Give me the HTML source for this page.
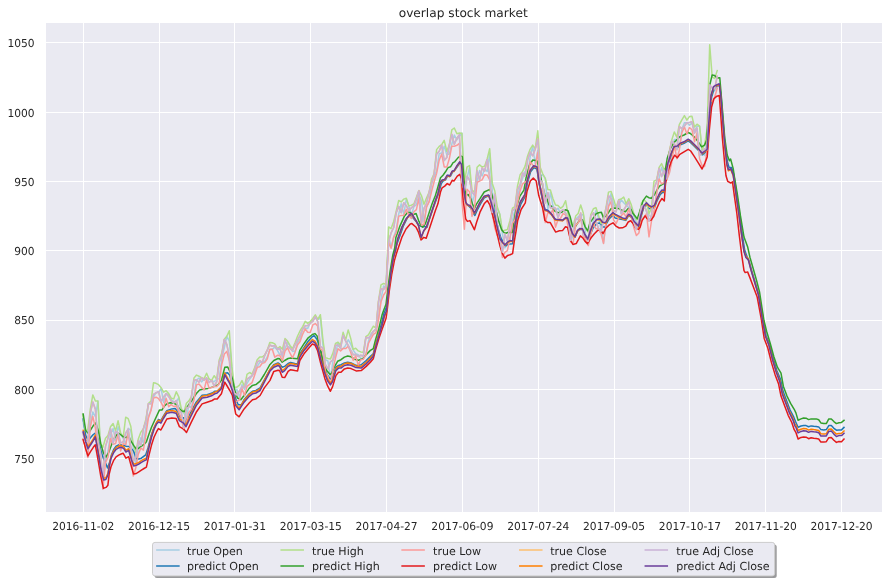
<!DOCTYPE html><html><head><meta charset="utf-8"><title>overlap stock market</title>
<style>html,body{margin:0;padding:0;background:#fff}svg{display:block;will-change:transform}text{text-rendering:geometricPrecision;font-family:"DejaVu Sans","Liberation Sans",sans-serif;fill:#262626}</style></head><body>
<svg width="894" height="583" viewBox="0 0 894 583">
<rect x="0" y="0" width="894" height="583" fill="#ffffff"/>
<rect x="46" y="23" width="836" height="489" fill="#eaeaf2"/>
<path d="M83.5 23 V512 M159.5 23 V512 M234.5 23 V512 M310.5 23 V512 M386.5 23 V512 M462.5 23 V512 M538.5 23 V512 M614.5 23 V512 M689.5 23 V512 M765.5 23 V512 M841.5 23 V512 M46 458.5 H882 M46 389.5 H882 M46 320.5 H882 M46 250.5 H882 M46 181.5 H882 M46 112.5 H882 M46 42.5 H882" stroke="#ffffff" stroke-width="1" fill="none" shape-rendering="crispEdges"/>
<g fill="none" stroke-width="1.5" stroke-linejoin="round" stroke-linecap="square" clip-path="none">
<path d="M82.7 419.1 L85.2 434.3 L87.8 457.2 L90.3 424.2 L92.8 411.9 L95.4 416.7 L97.9 401.1 L100.4 449.1 L102.9 450.4 L105.5 462.4 L108.0 451.0 L110.5 434.7 L113.1 428.5 L115.6 440.7 L118.1 426.8 L120.6 433.6 L123.2 438.4 L125.7 444.3 L128.2 428.3 L130.8 430.3 L133.3 447.8 L135.8 465.7 L138.3 447.5 L140.9 437.7 L143.4 442.9 L145.9 427.0 L148.4 416.6 L151.0 409.6 L153.5 397.3 L156.0 392.5 L158.6 392.6 L161.1 388.3 L163.6 402.4 L166.1 393.4 L168.7 394.6 L171.2 399.5 L173.7 401.5 L176.3 401.8 L178.8 397.6 L181.3 412.0 L183.8 412.8 L186.4 418.2 L188.9 405.0 L191.4 408.2 L194.0 395.4 L196.5 380.0 L199.0 378.0 L201.5 381.9 L204.1 379.0 L206.6 378.5 L209.1 379.1 L211.6 380.8 L214.2 381.8 L216.7 379.3 L219.2 378.8 L221.8 358.0 L224.3 347.8 L226.8 336.5 L229.3 340.8 L231.9 368.6 L234.4 393.2 L236.9 389.3 L239.5 397.5 L242.0 384.7 L244.5 389.3 L247.0 383.3 L249.6 379.2 L252.1 375.7 L254.6 372.7 L257.2 366.7 L259.7 362.5 L262.2 362.0 L264.7 361.3 L267.3 357.0 L269.8 349.2 L272.3 349.2 L274.8 347.1 L277.4 350.4 L279.9 354.8 L282.4 353.4 L285.0 348.9 L287.5 342.0 L290.0 346.5 L292.5 351.5 L295.1 350.9 L297.6 342.4 L300.1 339.0 L302.7 328.9 L305.2 327.9 L307.7 328.4 L310.2 322.9 L312.8 320.9 L315.3 317.3 L317.8 319.6 L320.4 317.6 L322.9 344.6 L325.4 359.8 L327.9 361.0 L330.5 379.2 L333.0 360.6 L335.5 354.2 L338.0 342.4 L340.6 348.7 L343.1 348.4 L345.6 345.4 L348.2 339.7 L350.7 344.0 L353.2 350.1 L355.7 353.7 L358.3 354.6 L360.8 358.5 L363.3 358.2 L365.9 354.2 L368.4 341.4 L370.9 333.7 L373.4 331.4 L376.0 329.4 L378.5 317.9 L381.0 298.8 L383.6 286.0 L386.1 286.9 L388.6 235.5 L391.1 247.6 L393.7 237.0 L396.2 229.7 L398.7 214.2 L401.2 203.8 L403.8 214.1 L406.3 199.1 L408.8 206.0 L411.4 215.2 L413.9 206.6 L416.4 204.6 L418.9 194.9 L421.5 200.9 L424.0 221.2 L426.5 206.7 L429.1 201.8 L431.6 183.9 L434.1 176.9 L436.6 170.8 L439.2 153.7 L441.7 152.9 L444.2 146.3 L446.8 154.7 L449.3 154.0 L451.8 144.2 L454.3 135.0 L456.9 139.9 L459.4 136.2 L461.9 133.2 L464.4 195.5 L467.0 178.4 L469.5 167.3 L472.0 203.2 L474.6 194.9 L477.1 181.1 L479.6 170.6 L482.1 176.0 L484.7 168.9 L487.2 171.5 L489.7 153.4 L492.3 191.4 L494.8 210.1 L497.3 208.8 L499.8 214.2 L502.4 233.4 L504.9 247.9 L507.4 244.6 L510.0 238.0 L512.5 220.1 L515.0 209.4 L517.5 196.7 L520.1 186.1 L522.6 178.2 L525.1 171.3 L527.6 176.8 L530.2 156.3 L532.7 146.4 L535.2 164.0 L537.8 150.2 L540.3 175.7 L542.8 174.5 L545.3 178.5 L547.9 209.5 L550.4 192.2 L552.9 205.4 L555.5 210.6 L558.0 208.2 L560.5 213.2 L563.0 210.0 L565.6 212.7 L568.1 221.7 L570.6 226.0 L573.2 239.2 L575.7 219.1 L578.2 216.7 L580.7 215.2 L583.3 214.6 L585.8 236.0 L588.3 236.4 L590.8 232.7 L593.4 219.9 L595.9 210.6 L598.4 217.7 L601.0 228.1 L603.5 243.2 L606.0 222.5 L608.5 206.3 L611.1 193.3 L613.6 204.4 L616.1 208.5 L618.7 206.3 L621.2 199.7 L623.7 202.8 L626.2 205.1 L628.8 207.8 L631.3 207.0 L633.8 216.1 L636.4 222.6 L638.9 226.1 L641.4 218.4 L643.9 204.6 L646.5 211.8 L649.0 215.0 L651.5 217.4 L654.0 211.8 L656.6 193.0 L659.1 178.2 L661.6 167.2 L664.2 175.5 L666.7 171.3 L669.2 173.4 L671.7 157.9 L674.3 139.4 L676.8 139.4 L679.3 148.1 L681.9 129.1 L684.4 122.8 L686.9 122.7 L689.4 125.2 L692.0 123.1 L694.5 131.1 L697.0 126.3 L699.6 126.2 L702.1 153.3 L704.6 155.5 L707.1 139.4 L709.7 99.0 L712.2 92.3 L714.7 90.6 L717.2 87.9" stroke="#a6cee3"/>
<path d="M83.2 418.9 L85.7 435.4 L88.3 440.6 L90.8 437.3 L93.3 434.5 L95.3 433.0 L98.4 439.5 L100.8 450.6 L103.4 458.4 L106.0 464.0 L107.5 467.9 L109.8 461.8 L111.4 455.1 L113.7 449.5 L116.1 446.2 L118.7 444.8 L121.5 445.1 L123.7 445.6 L126.2 446.2 L128.7 446.4 L131.3 448.4 L133.8 451.7 L136.3 458.4 L138.8 459.0 L141.4 458.2 L144.0 456.2 L145.7 454.9 L148.2 447.3 L151.0 436.1 L153.8 428.3 L156.6 422.8 L158.4 419.5 L160.9 420.7 L163.4 416.2 L166.8 410.6 L171.8 408.9 L175.2 408.6 L177.7 411.5 L180.3 417.4 L183.6 417.7 L185.6 422.4 L191.2 411.5 L196.2 402.2 L202.1 395.2 L207.1 394.7 L212.2 393.0 L214.7 391.3 L217.2 391.3 L221.4 387.1 L224.8 373.3 L227.6 372.8 L229.8 375.3 L232.4 385.4 L235.7 398.9 L238.2 404.7 L241.6 404.7 L244.1 399.7 L249.2 393.8 L252.5 391.3 L255.9 390.5 L260.1 387.9 L264.3 380.0 L270.0 369.5 L273.8 364.7 L278.0 363.0 L279.6 363.9 L282.2 367.2 L284.7 366.4 L288.1 363.5 L290.6 362.5 L294.8 363.5 L297.6 363.9 L299.8 353.8 L304.0 347.6 L308.2 341.2 L312.4 336.6 L314.1 335.6 L317.1 339.5 L320.0 348.7 L323.3 363.9 L326.7 373.9 L330.1 379.0 L332.3 378.2 L335.9 367.2 L338.5 365.5 L341.0 364.7 L344.4 363.0 L347.7 362.2 L351.1 363.0 L356.1 365.5 L361.2 364.7 L366.2 360.5 L370.4 356.3 L373.3 353.8 L375.4 345.4 L378.8 333.6 L382.0 321.8 L383.9 313.5 L386.3 307.6 L388.2 290.8 L390.7 271.5 L393.2 256.4 L395.2 248.8 L399.3 237.4 L403.5 225.6 L407.7 217.2 L410.2 215.5 L411.9 216.4 L416.1 221.4 L418.6 224.8 L421.1 226.5 L424.5 226.5 L427.0 227.3 L429.5 218.9 L432.9 208.8 L436.3 199.6 L438.8 192.9 L441.3 183.6 L443.0 181.1 L445.5 179.9 L448.0 175.2 L450.5 176.1 L453.1 171.0 L454.7 170.2 L458.1 165.5 L460.6 162.6 L462.3 166.8 L464.0 187.0 L466.0 203.8 L468.2 205.5 L470.7 208.0 L473.2 213.0 L474.9 215.5 L477.1 210.5 L480.5 203.8 L484.2 197.9 L489.1 195.6 L491.0 199.9 L493.5 208.5 L495.9 218.4 L498.4 229.5 L500.9 238.1 L502.7 241.2 L504.9 244.3 L505.8 245.8 L507.7 244.3 L510.1 244.1 L512.6 243.7 L514.1 233.2 L515.9 223.3 L517.4 215.4 L520.7 204.5 L525.3 196.1 L527.3 183.5 L530.6 171.7 L534.0 167.5 L537.0 169.2 L539.0 183.5 L541.2 193.6 L543.3 202.8 L544.9 209.4 L547.8 210.2 L550.7 213.0 L555.2 219.5 L559.4 220.1 L562.7 220.5 L565.5 218.1 L567.6 218.5 L569.7 225.9 L572.5 234.1 L575.0 237.0 L577.5 231.2 L580.0 229.2 L582.4 229.6 L584.9 235.4 L587.8 239.9 L590.7 233.7 L593.1 227.9 L596.8 223.4 L600.1 223.0 L602.6 226.7 L605.1 227.3 L606.0 224.5 L609.3 218.7 L612.6 215.4 L615.1 217.9 L618.4 218.7 L622.5 219.5 L625.8 220.4 L628.7 215.4 L631.5 217.5 L634.0 222.0 L638.5 227.0 L640.6 217.5 L643.5 208.0 L646.4 204.7 L648.8 208.4 L651.7 208.8 L654.6 207.2 L657.1 200.6 L660.0 194.8 L662.4 192.4 L664.3 192.4 L665.8 175.4 L668.0 164.5 L671.4 154.4 L673.9 148.5 L677.3 147.6 L679.8 145.1 L684.0 143.4 L688.2 140.9 L690.7 142.6 L694.1 146.0 L698.3 150.2 L702.1 154.9 L705.0 152.7 L707.2 151.0 L708.7 126.3 L711.6 97.4 L714.0 89.0 L716.9 85.9 L719.8 85.4 L721.2 97.4 L722.9 119.1 L725.3 147.9 L727.5 162.3 L729.1 167.4 L731.5 167.4 L733.9 174.6 L736.3 191.4 L739.5 213.0 L742.3 234.6 L744.7 250.3 L746.9 256.3 L749.1 261.1 L752.4 273.1 L756.0 285.1 L759.1 295.9 L763.3 319.2 L766.1 336.0 L769.7 344.4 L773.3 358.8 L776.9 370.8 L780.5 379.3 L782.9 390.8 L786.5 400.4 L790.1 410.0 L793.8 417.2 L795.4 421.3 L798.1 427.2 L801.0 426.0 L803.6 425.6 L806.1 425.6 L808.6 426.7 L811.1 425.9 L813.7 426.3 L816.2 426.5 L818.7 426.9 L820.9 429.6 L823.8 429.9 L826.3 429.6 L828.8 425.6 L831.3 425.4 L833.9 428.3 L836.4 430.2 L838.9 429.9 L841.5 429.9 L844.0 427.4" stroke="#1f78b4"/>
<path d="M82.7 414.3 L85.2 430.5 L87.8 429.9 L90.3 409.4 L92.8 394.9 L95.4 401.0 L97.9 401.1 L100.4 443.2 L102.9 447.3 L105.5 438.2 L108.0 435.5 L110.5 426.7 L113.1 423.5 L115.6 430.9 L118.1 420.8 L120.6 432.8 L123.2 437.4 L125.7 417.2 L128.2 418.7 L130.8 426.3 L133.3 444.5 L135.8 452.6 L138.3 438.9 L140.9 432.1 L143.4 428.6 L145.9 419.1 L148.4 403.5 L151.0 401.0 L153.5 382.8 L156.0 383.3 L158.6 384.7 L161.1 387.7 L163.6 392.1 L166.1 390.7 L168.7 393.5 L171.2 398.1 L173.7 398.9 L176.3 391.8 L178.8 396.9 L181.3 408.4 L183.8 412.7 L186.4 403.2 L188.9 400.9 L191.4 396.5 L194.0 377.9 L196.5 375.1 L199.0 376.2 L201.5 377.6 L204.1 378.6 L206.6 373.3 L209.1 379.0 L211.6 380.3 L214.2 375.7 L216.7 379.3 L219.2 359.9 L221.8 353.0 L224.3 339.3 L226.8 336.2 L229.3 330.7 L231.9 366.9 L234.4 387.1 L236.9 387.2 L239.5 385.1 L242.0 380.6 L244.5 386.6 L247.0 374.3 L249.6 372.5 L252.1 374.1 L254.6 367.7 L257.2 359.8 L259.7 357.0 L262.2 357.0 L264.7 355.1 L267.3 350.0 L269.8 342.5 L272.3 342.8 L274.8 343.9 L277.4 348.7 L279.9 346.6 L282.4 349.3 L285.0 338.6 L287.5 341.0 L290.0 345.4 L292.5 348.8 L295.1 342.6 L297.6 336.0 L300.1 330.7 L302.7 326.6 L305.2 321.4 L307.7 323.4 L310.2 321.5 L312.8 318.4 L315.3 314.9 L317.8 319.3 L320.4 314.7 L322.9 339.6 L325.4 357.6 L327.9 358.5 L330.5 358.9 L333.0 352.9 L335.5 343.5 L338.0 342.2 L340.6 345.0 L343.1 332.3 L345.6 340.1 L348.2 330.0 L350.7 338.4 L353.2 349.4 L355.7 348.2 L358.3 350.9 L360.8 351.9 L363.3 352.3 L365.9 336.6 L368.4 334.9 L370.9 330.4 L373.4 326.2 L376.0 328.1 L378.5 300.9 L381.0 284.9 L383.6 283.5 L386.1 284.4 L388.6 226.9 L391.1 228.6 L393.7 221.5 L396.2 211.3 L398.7 200.5 L401.2 201.9 L403.8 199.1 L406.3 198.3 L408.8 205.9 L411.4 205.2 L413.9 203.9 L416.4 197.3 L418.9 190.5 L421.5 195.8 L424.0 204.3 L426.5 198.0 L429.1 192.3 L431.6 179.0 L434.1 173.9 L436.6 149.6 L439.2 146.4 L441.7 144.7 L444.2 140.4 L446.8 151.2 L449.3 145.1 L451.8 129.9 L454.3 128.0 L456.9 133.7 L459.4 133.1 L461.9 133.2 L464.4 181.9 L467.0 167.2 L469.5 165.5 L472.0 190.2 L474.6 192.0 L477.1 167.2 L479.6 164.9 L482.1 167.0 L484.7 166.1 L487.2 158.8 L489.7 148.7 L492.3 183.4 L494.8 191.0 L497.3 207.0 L499.8 214.2 L502.4 231.0 L504.9 230.2 L507.4 229.6 L510.0 220.4 L512.5 208.2 L515.0 206.7 L517.5 186.1 L520.1 174.8 L522.6 171.4 L525.1 166.1 L527.6 156.0 L530.2 149.1 L532.7 145.1 L535.2 148.8 L537.8 130.8 L540.3 167.6 L542.8 174.1 L545.3 178.5 L547.9 189.6 L550.4 189.9 L552.9 198.4 L555.5 205.1 L558.0 205.6 L560.5 208.3 L563.0 206.4 L565.6 200.7 L568.1 214.3 L570.6 223.6 L573.2 225.7 L575.7 216.1 L578.2 213.5 L580.7 205.0 L583.3 213.1 L585.8 229.1 L588.3 232.3 L590.8 214.5 L593.4 208.8 L595.9 207.6 L598.4 214.9 L601.0 223.6 L603.5 218.0 L606.0 207.6 L608.5 192.1 L611.1 191.4 L613.6 199.0 L616.1 207.5 L618.7 199.8 L621.2 199.0 L623.7 197.1 L626.2 203.9 L628.8 198.7 L631.3 204.9 L633.8 213.6 L636.4 219.7 L638.9 219.2 L641.4 203.3 L643.9 199.7 L646.5 202.2 L649.0 213.7 L651.5 207.6 L654.0 181.1 L656.6 180.0 L659.1 167.4 L661.6 163.6 L664.2 169.9 L666.7 166.6 L669.2 152.0 L671.7 140.2 L674.3 131.9 L676.8 137.3 L679.3 124.6 L681.9 119.9 L684.4 115.6 L686.9 120.1 L689.4 116.6 L692.0 116.3 L694.5 127.1 L697.0 124.2 L699.6 126.2 L702.1 150.2 L704.6 144.8 L707.1 128.9 L709.7 44.7 L712.2 77.1 L714.7 78.5 L717.2 70.6" stroke="#b2df8a"/>
<path d="M83.2 414.0 L85.7 430.6 L88.3 433.4 L90.8 429.5 L93.3 425.6 L95.8 422.9 L98.4 431.1 L100.8 443.9 L103.4 452.9 L106.0 457.0 L108.5 452.9 L111.0 446.2 L113.5 439.5 L116.1 435.6 L118.7 433.4 L121.1 435.0 L123.7 437.3 L126.2 437.5 L128.7 436.1 L131.3 441.7 L133.8 445.6 L136.3 449.0 L138.8 448.2 L141.4 446.2 L144.0 444.5 L146.4 441.7 L149.0 433.9 L151.5 427.2 L154.0 421.7 L159.4 410.1 L161.9 410.1 L164.5 405.9 L166.8 403.9 L170.2 402.7 L173.5 403.1 L176.9 404.7 L179.4 408.9 L181.9 411.0 L184.5 411.5 L186.1 408.9 L188.7 404.7 L192.9 398.9 L196.2 393.8 L199.6 390.1 L203.8 389.1 L208.0 388.4 L212.2 387.1 L214.7 386.3 L218.1 384.6 L221.4 380.4 L224.8 367.3 L227.6 366.9 L229.8 371.1 L232.4 378.7 L234.9 390.5 L237.4 398.0 L240.8 399.7 L244.1 395.5 L249.2 388.4 L252.5 385.4 L255.9 384.6 L260.1 381.2 L264.3 374.5 L270.0 364.4 L273.8 360.5 L278.0 358.5 L279.6 358.8 L282.2 362.2 L284.7 360.5 L288.1 358.5 L290.6 358.0 L294.8 358.5 L297.6 358.8 L299.8 350.4 L304.0 343.7 L308.2 337.8 L312.4 334.5 L314.9 333.6 L317.1 336.1 L320.0 347.1 L323.3 362.2 L326.7 370.6 L330.1 374.5 L331.7 373.1 L334.3 367.2 L337.6 361.3 L341.0 359.7 L344.4 357.1 L347.7 356.0 L351.1 356.8 L354.4 359.2 L358.6 360.2 L362.8 358.8 L366.2 354.6 L370.4 350.4 L373.3 348.7 L375.4 340.3 L378.8 328.6 L382.0 315.1 L383.4 311.0 L386.0 304.3 L387.6 290.8 L390.2 270.7 L392.7 255.5 L394.7 248.0 L395.9 237.4 L400.1 225.6 L404.3 216.4 L407.7 212.2 L410.2 212.5 L412.7 214.7 L416.1 213.5 L418.6 220.6 L421.1 225.6 L422.8 227.3 L425.3 223.9 L428.7 213.9 L432.1 203.8 L435.4 195.4 L437.9 187.0 L440.5 177.7 L443.0 175.2 L445.5 171.8 L448.0 167.6 L450.5 166.8 L453.1 162.6 L454.7 161.8 L458.1 157.6 L460.6 155.9 L462.3 156.7 L464.0 180.3 L466.0 195.4 L468.2 194.5 L470.7 198.7 L472.4 203.8 L474.4 208.8 L476.6 203.8 L480.0 198.7 L484.2 192.0 L489.8 189.4 L491.6 193.7 L494.1 202.3 L496.5 212.2 L499.0 222.1 L501.5 229.5 L504.0 232.6 L505.8 233.2 L508.3 232.2 L510.7 232.6 L512.6 232.6 L513.5 224.6 L515.1 214.7 L516.5 207.0 L519.9 196.1 L523.9 190.2 L526.1 177.6 L529.5 165.0 L532.8 160.0 L537.0 160.8 L539.5 170.0 L541.2 179.3 L543.7 190.2 L544.9 195.0 L547.4 199.9 L549.1 204.9 L551.5 206.1 L554.0 210.7 L557.7 212.7 L562.2 211.9 L565.5 209.8 L568.0 210.7 L570.1 216.4 L572.5 226.3 L574.6 227.9 L577.1 223.8 L579.5 220.5 L582.4 219.7 L584.9 226.3 L587.8 230.8 L590.2 222.2 L592.7 218.9 L596.0 213.9 L598.5 212.7 L601.4 212.3 L603.4 217.7 L606.0 216.2 L608.5 212.5 L610.9 208.8 L614.2 208.0 L618.4 208.4 L622.5 210.5 L625.4 211.7 L628.2 208.4 L630.7 209.2 L633.2 213.8 L637.3 218.7 L639.8 211.3 L643.1 200.6 L646.4 196.1 L648.8 197.7 L651.3 198.3 L654.6 194.4 L657.1 189.9 L659.5 186.2 L662.8 184.1 L664.3 183.5 L665.2 170.3 L667.2 158.6 L670.5 148.5 L673.9 142.6 L677.3 139.2 L679.8 136.7 L684.0 135.0 L688.2 132.5 L690.7 133.7 L694.1 136.7 L698.3 141.8 L701.6 146.8 L704.5 145.1 L706.7 140.1 L708.0 119.1 L709.9 84.7 L712.1 75.1 L714.7 75.6 L717.3 78.0 L719.8 77.7 L722.4 109.4 L724.8 138.3 L727.2 155.1 L729.4 160.8 L730.6 159.0 L733.2 168.6 L734.4 177.0 L737.3 193.8 L740.4 215.4 L744.0 237.0 L747.6 246.7 L750.0 257.5 L753.1 268.3 L756.5 280.3 L759.6 292.3 L763.7 319.2 L766.6 331.2 L770.2 343.2 L773.8 356.4 L777.4 367.2 L781.0 373.2 L783.4 386.5 L787.0 396.1 L790.6 403.3 L794.2 409.3 L795.9 412.9 L798.1 420.2 L801.0 418.9 L803.6 418.0 L806.1 418.2 L808.6 419.6 L811.1 418.9 L813.7 418.9 L816.2 418.9 L818.7 419.8 L820.9 422.9 L823.8 423.6 L826.3 423.6 L828.8 418.9 L831.3 418.9 L833.9 421.6 L836.4 423.6 L838.9 422.7 L841.5 422.4 L844.0 420.4" stroke="#33a02c"/>
<path d="M82.7 439.5 L85.2 445.6 L87.8 457.4 L90.3 426.9 L92.8 416.3 L95.4 428.1 L97.9 455.1 L100.4 457.6 L102.9 489.3 L105.5 462.4 L108.0 457.5 L110.5 438.4 L113.1 444.3 L115.6 443.5 L118.1 434.6 L120.6 450.9 L123.2 443.6 L125.7 444.6 L128.2 432.9 L130.8 451.5 L133.3 476.1 L135.8 467.7 L138.3 454.1 L140.9 448.0 L143.4 450.1 L145.9 434.3 L148.4 417.9 L151.0 410.6 L153.5 398.1 L156.0 397.2 L158.6 398.7 L161.1 402.3 L163.6 407.9 L166.1 398.2 L168.7 406.7 L171.2 404.7 L173.7 406.5 L176.3 406.0 L178.8 412.2 L181.3 418.1 L183.8 429.9 L186.4 422.4 L188.9 412.2 L191.4 409.6 L194.0 399.7 L196.5 384.9 L199.0 384.0 L201.5 387.0 L204.1 390.0 L206.6 379.6 L209.1 388.4 L211.6 387.5 L214.2 386.4 L216.7 386.5 L219.2 383.7 L221.8 364.2 L224.3 354.1 L226.8 351.4 L229.3 360.5 L231.9 389.1 L234.4 402.0 L236.9 401.1 L239.5 400.0 L242.0 388.4 L244.5 395.5 L247.0 386.4 L249.6 384.4 L252.1 382.6 L254.6 375.3 L257.2 367.4 L259.7 366.7 L262.2 363.3 L264.7 362.6 L267.3 358.9 L269.8 349.6 L272.3 349.2 L274.8 357.2 L277.4 355.3 L279.9 355.6 L282.4 360.9 L285.0 351.1 L287.5 347.8 L290.0 353.2 L292.5 357.8 L295.1 352.1 L297.6 344.8 L300.1 341.5 L302.7 334.1 L305.2 328.9 L307.7 332.3 L310.2 332.4 L312.8 324.9 L315.3 323.6 L317.8 326.3 L320.4 348.7 L322.9 351.2 L325.4 371.9 L327.9 376.6 L330.5 384.2 L333.0 369.4 L335.5 357.9 L338.0 348.7 L340.6 350.9 L343.1 348.4 L345.6 348.6 L348.2 346.3 L350.7 352.2 L353.2 360.4 L355.7 355.9 L358.3 365.3 L360.8 359.7 L363.3 359.2 L365.9 355.0 L368.4 343.5 L370.9 338.6 L373.4 334.4 L376.0 332.6 L378.5 319.8 L381.0 301.8 L383.6 295.0 L386.1 291.3 L388.6 242.3 L391.1 248.3 L393.7 237.2 L396.2 232.9 L398.7 216.2 L401.2 215.4 L403.8 215.3 L406.3 209.4 L408.8 215.4 L411.4 218.4 L413.9 211.7 L416.4 209.6 L418.9 198.2 L421.5 225.2 L424.0 224.3 L426.5 207.3 L429.1 201.8 L431.6 191.3 L434.1 181.7 L436.6 173.4 L439.2 160.2 L441.7 154.0 L444.2 166.9 L446.8 167.1 L449.3 158.8 L451.8 146.2 L454.3 146.2 L456.9 145.3 L459.4 143.3 L461.9 200.9 L464.4 229.2 L467.0 189.2 L469.5 191.7 L472.0 216.4 L474.6 206.5 L477.1 182.3 L479.6 181.0 L482.1 179.9 L484.7 174.7 L487.2 175.2 L489.7 179.9 L492.3 213.1 L494.8 228.1 L497.3 235.6 L499.8 238.8 L502.4 257.5 L504.9 252.4 L507.4 250.7 L510.0 238.0 L512.5 223.1 L515.0 219.8 L517.5 202.5 L520.1 190.7 L522.6 183.8 L525.1 182.1 L527.6 180.2 L530.2 161.6 L532.7 165.0 L535.2 166.9 L537.8 152.2 L540.3 187.4 L542.8 191.7 L545.3 222.6 L547.9 212.2 L550.4 214.2 L552.9 209.7 L555.5 227.2 L558.0 219.5 L560.5 218.4 L563.0 213.6 L565.6 214.8 L568.1 226.4 L570.6 241.8 L573.2 242.6 L575.7 225.1 L578.2 222.8 L580.7 217.8 L583.3 235.1 L585.8 240.4 L588.3 245.6 L590.8 234.4 L593.4 223.5 L595.9 228.8 L598.4 228.8 L601.0 233.8 L603.5 243.4 L606.0 223.1 L608.5 206.3 L611.1 201.6 L613.6 219.9 L616.1 223.6 L618.7 217.6 L621.2 215.8 L623.7 213.0 L626.2 217.2 L628.8 208.9 L631.3 217.0 L633.8 227.6 L636.4 235.6 L638.9 232.9 L641.4 219.8 L643.9 217.3 L646.5 213.6 L649.0 236.8 L651.5 221.0 L654.0 211.8 L656.6 194.1 L659.1 178.9 L661.6 184.0 L664.2 182.2 L666.7 180.0 L669.2 173.8 L671.7 162.5 L674.3 144.8 L676.8 158.7 L679.3 150.2 L681.9 132.5 L684.4 127.0 L686.9 133.9 L689.4 127.5 L692.0 129.8 L694.5 141.7 L697.0 133.1 L699.6 158.7 L702.1 165.8 L704.6 166.4 L707.1 150.2 L709.7 100.3 L712.2 101.3 L714.7 97.3 L717.2 88.2" stroke="#fb9a99"/>
<path d="M83.2 439.4 L85.7 449.0 L88.0 455.9 L90.8 451.2 L93.3 447.3 L95.3 444.8 L98.4 461.8 L100.8 476.3 L103.4 488.3 L106.0 487.4 L107.9 485.2 L109.2 474.0 L111.0 466.8 L113.5 460.7 L116.1 456.8 L118.7 455.1 L121.1 454.0 L123.1 453.2 L125.9 458.1 L128.7 456.8 L131.3 466.2 L133.5 474.0 L136.3 473.5 L138.8 471.8 L141.4 470.1 L144.0 468.5 L146.4 467.1 L149.0 455.1 L151.5 445.1 L154.0 437.3 L156.6 431.7 L158.4 428.6 L160.9 430.0 L163.4 425.3 L166.8 419.0 L171.8 417.9 L176.1 418.5 L179.4 426.6 L183.6 429.1 L186.5 432.5 L191.2 422.4 L196.2 412.3 L202.1 403.9 L207.1 402.2 L212.2 400.5 L214.7 398.9 L217.2 398.9 L221.4 393.8 L224.8 382.1 L229.8 390.5 L232.4 395.5 L235.7 414.0 L239.1 416.8 L244.1 408.9 L249.2 403.1 L252.5 399.7 L255.9 398.9 L260.1 395.5 L264.3 387.9 L270.0 380.4 L273.8 371.4 L278.0 370.3 L279.6 370.6 L282.2 377.3 L284.7 377.6 L288.1 371.4 L290.6 369.7 L294.8 370.6 L297.6 370.9 L299.8 360.5 L304.0 353.8 L308.2 348.7 L312.4 344.0 L314.9 345.0 L317.5 350.4 L320.8 363.9 L325.0 379.0 L327.5 385.7 L330.4 391.3 L332.6 386.6 L335.9 375.6 L338.5 372.3 L341.0 372.3 L344.4 368.9 L347.7 368.1 L351.1 368.6 L356.1 370.9 L361.2 370.6 L366.2 366.4 L370.4 362.2 L373.3 358.8 L375.4 350.4 L378.8 338.7 L382.0 329.4 L386.0 318.6 L387.1 311.0 L389.3 290.8 L391.8 274.0 L394.4 260.6 L396.6 253.0 L401.8 237.4 L406.0 229.0 L410.2 223.9 L411.9 223.6 L416.1 227.3 L418.6 232.4 L421.1 239.9 L423.7 237.4 L426.2 238.2 L428.7 230.7 L432.1 220.6 L435.4 210.5 L437.9 203.8 L440.5 192.0 L442.1 187.8 L444.7 186.1 L447.2 183.6 L449.7 185.0 L452.2 180.3 L453.9 181.1 L457.3 176.1 L459.8 174.4 L461.5 178.6 L463.2 200.4 L465.7 218.9 L467.4 221.4 L469.9 220.6 L472.4 225.6 L474.4 229.8 L476.6 222.3 L480.0 212.2 L484.2 203.8 L487.3 200.5 L489.8 204.8 L492.2 213.5 L494.7 223.3 L497.8 236.9 L500.2 246.8 L502.7 254.2 L504.9 258.1 L507.7 255.4 L510.1 254.8 L512.6 253.6 L514.2 241.9 L516.3 229.5 L517.7 220.5 L521.1 209.5 L525.3 202.8 L526.9 191.9 L530.3 181.0 L533.3 178.1 L536.2 181.0 L538.7 195.3 L540.4 201.1 L542.5 207.4 L544.9 220.5 L547.8 222.6 L550.3 222.6 L552.8 227.1 L555.7 232.1 L559.4 230.8 L562.7 230.4 L565.5 226.7 L567.6 227.5 L569.2 234.5 L570.9 241.1 L572.9 244.4 L576.2 243.6 L580.4 235.8 L582.8 237.8 L584.9 241.1 L587.4 243.6 L591.1 237.8 L594.4 233.7 L597.7 230.4 L600.5 229.6 L603.0 233.7 L606.0 228.0 L609.3 224.9 L613.0 222.8 L615.9 226.1 L619.2 228.0 L622.5 227.8 L625.8 226.1 L628.2 222.0 L630.7 220.8 L633.2 223.7 L635.7 228.0 L638.5 229.4 L640.2 227.0 L642.2 220.4 L645.1 215.8 L646.8 218.3 L650.9 220.4 L653.8 216.2 L656.2 209.7 L659.5 202.2 L662.0 198.5 L664.3 201.0 L665.5 183.8 L668.0 171.2 L671.4 161.1 L674.7 155.2 L677.3 157.7 L679.8 154.4 L684.0 151.8 L688.2 149.3 L690.7 151.0 L694.1 156.1 L698.3 162.8 L702.1 169.0 L705.0 162.8 L707.2 156.9 L709.2 131.1 L711.6 107.0 L714.0 98.6 L716.9 96.2 L719.3 95.5 L720.7 114.3 L722.4 138.3 L724.8 164.7 L726.0 175.8 L727.7 181.3 L730.8 183.0 L732.5 181.8 L734.4 196.2 L736.8 213.0 L739.2 234.6 L741.6 253.9 L744.0 270.7 L745.2 272.6 L747.6 271.9 L750.0 277.9 L753.6 287.5 L757.2 297.1 L761.3 319.2 L764.2 338.4 L767.8 348.0 L771.4 362.4 L775.0 374.4 L778.6 384.1 L781.0 396.1 L784.6 405.7 L788.2 415.3 L791.8 422.5 L794.2 429.7 L796.0 432.7 L798.1 439.0 L801.0 437.4 L803.6 436.9 L806.1 437.2 L808.6 438.7 L811.1 437.7 L813.7 438.3 L816.2 438.6 L818.7 439.0 L820.9 442.1 L823.8 441.9 L826.3 441.7 L828.8 437.7 L831.3 437.4 L833.9 440.3 L836.4 442.4 L838.9 441.5 L841.5 441.7 L844.0 439.0" stroke="#e31a1c"/>
<path d="M82.7 432.2 L85.2 441.4 L87.8 441.5 L90.3 413.1 L92.8 402.0 L95.4 409.2 L97.9 440.8 L100.4 452.6 L102.9 477.5 L105.5 446.4 L108.0 438.1 L110.5 428.7 L113.1 443.6 L115.6 431.6 L118.1 432.8 L120.6 442.9 L123.2 442.0 L125.7 432.9 L128.2 429.3 L130.8 447.0 L133.3 461.0 L135.8 457.5 L138.3 440.8 L140.9 445.5 L143.4 428.8 L145.9 421.5 L148.4 403.7 L151.0 403.7 L153.5 394.3 L156.0 392.9 L158.6 391.8 L161.1 401.6 L163.6 396.9 L166.1 393.8 L168.7 396.4 L171.2 401.0 L173.7 402.9 L176.3 400.6 L178.8 409.6 L181.3 412.7 L183.8 427.9 L186.4 408.1 L188.9 407.0 L191.4 397.2 L194.0 380.3 L196.5 379.7 L199.0 382.2 L201.5 377.9 L204.1 380.1 L206.6 377.9 L209.1 382.5 L211.6 380.5 L214.2 385.9 L216.7 381.9 L219.2 362.1 L221.8 355.8 L224.3 339.4 L226.8 344.3 L229.3 356.6 L231.9 385.7 L234.4 393.3 L236.9 394.8 L239.5 390.9 L242.0 386.8 L244.5 387.0 L247.0 379.2 L249.6 377.3 L252.1 375.6 L254.6 369.9 L257.2 362.2 L259.7 360.5 L262.2 362.6 L264.7 355.4 L267.3 350.0 L269.8 345.0 L272.3 346.2 L274.8 345.5 L277.4 349.2 L279.9 348.3 L282.4 356.7 L285.0 340.0 L287.5 346.4 L290.0 348.6 L292.5 350.4 L295.1 344.6 L297.6 339.9 L300.1 335.3 L302.7 328.9 L305.2 325.8 L307.7 325.6 L310.2 323.5 L312.8 321.3 L315.3 316.6 L317.8 321.8 L320.4 346.7 L322.9 347.9 L325.4 364.5 L327.9 368.9 L330.5 361.8 L333.0 359.9 L335.5 345.3 L338.0 345.2 L340.6 347.9 L343.1 335.4 L345.6 341.0 L348.2 345.3 L350.7 350.2 L353.2 354.7 L355.7 354.6 L358.3 356.5 L360.8 355.2 L363.3 356.2 L365.9 337.4 L368.4 337.8 L370.9 335.9 L373.4 331.2 L376.0 329.0 L378.5 301.9 L381.0 288.7 L383.6 289.5 L386.1 286.0 L388.6 242.0 L391.1 232.9 L393.7 227.5 L396.2 212.8 L398.7 206.4 L401.2 212.7 L403.8 202.8 L406.3 205.7 L408.8 210.4 L411.4 207.9 L413.9 205.6 L416.4 198.9 L418.9 190.7 L421.5 223.1 L424.0 208.4 L426.5 203.2 L429.1 192.3 L431.6 182.6 L434.1 174.1 L436.6 153.9 L439.2 151.2 L441.7 145.1 L444.2 160.4 L446.8 157.5 L449.3 145.5 L451.8 134.3 L454.3 144.2 L456.9 138.1 L459.4 134.7 L461.9 181.2 L464.4 190.8 L467.0 176.3 L469.5 179.9 L472.0 191.7 L474.6 195.2 L477.1 170.8 L479.6 180.1 L482.1 167.9 L484.7 171.2 L487.2 159.4 L489.7 177.9 L492.3 212.4 L494.8 194.2 L497.3 225.6 L499.8 238.2 L502.4 252.1 L504.9 234.1 L507.4 241.0 L510.0 224.5 L512.5 210.4 L515.0 208.6 L517.5 189.6 L520.1 184.9 L522.6 172.7 L525.1 176.3 L527.6 159.7 L530.2 152.1 L532.7 155.8 L535.2 149.2 L537.8 139.0 L540.3 180.0 L542.8 184.0 L545.3 203.0 L547.9 192.7 L550.4 208.0 L552.9 207.6 L555.5 208.2 L558.0 217.5 L560.5 211.5 L563.0 209.6 L565.6 213.2 L568.1 218.6 L570.6 240.3 L573.2 230.3 L575.7 218.9 L578.2 219.5 L580.7 212.9 L583.3 235.1 L585.8 235.5 L588.3 241.1 L590.8 216.1 L593.4 212.9 L595.9 220.8 L598.4 228.3 L601.0 231.2 L603.5 220.8 L606.0 209.3 L608.5 195.8 L611.1 198.5 L613.6 210.9 L616.1 211.8 L618.7 200.5 L621.2 213.6 L623.7 210.0 L626.2 205.8 L628.8 201.7 L631.3 215.5 L633.8 222.2 L636.4 229.5 L638.9 220.1 L641.4 206.5 L643.9 205.3 L646.5 210.8 L649.0 221.2 L651.5 215.8 L654.0 188.6 L656.6 181.7 L659.1 168.4 L661.6 176.5 L664.2 170.2 L666.7 178.7 L669.2 153.3 L671.7 141.0 L674.3 143.6 L676.8 149.7 L679.3 126.6 L681.9 128.6 L684.4 126.0 L686.9 122.8 L689.4 122.5 L692.0 121.7 L694.5 133.3 L697.0 128.1 L699.6 155.4 L702.1 152.5 L704.6 148.7 L707.1 149.7 L709.7 85.0 L712.2 88.0 L714.7 88.7 L717.2 76.4" stroke="#fdbf6f"/>
<path d="M83.2 430.3 L85.7 440.0 L88.0 447.0 L90.8 442.8 L93.3 438.9 L95.3 435.1 L98.4 452.3 L100.8 466.8 L103.6 478.2 L105.9 477.7 L107.9 473.4 L109.2 465.6 L111.0 456.7 L113.5 451.2 L116.1 447.6 L118.7 446.1 L121.1 445.6 L123.7 446.7 L125.9 450.3 L128.7 448.7 L131.3 457.8 L133.7 464.2 L136.3 463.6 L138.8 462.3 L141.4 460.6 L144.0 459.2 L146.4 458.1 L149.0 445.6 L151.5 435.6 L154.0 427.8 L156.6 422.2 L158.4 420.2 L160.9 421.5 L163.4 416.8 L166.8 411.5 L171.8 410.6 L176.1 411.5 L179.4 419.0 L183.6 421.5 L186.0 424.9 L191.2 414.0 L196.2 403.9 L202.1 396.3 L207.1 395.5 L212.2 393.8 L214.7 392.1 L217.2 391.3 L221.4 387.1 L224.8 373.1 L229.8 382.0 L232.4 388.8 L235.7 403.9 L239.1 408.1 L244.1 400.5 L249.2 394.6 L252.5 392.1 L255.9 391.3 L260.1 388.8 L264.3 380.4 L270.0 369.4 L273.8 365.5 L278.0 363.8 L279.6 364.7 L282.2 370.6 L284.7 368.9 L288.1 364.7 L290.6 363.5 L294.8 364.2 L297.6 364.7 L299.8 355.4 L304.0 348.7 L308.2 343.7 L312.4 339.5 L314.9 341.2 L317.5 345.4 L320.8 358.0 L325.0 372.2 L327.5 379.0 L330.4 383.2 L332.6 379.8 L335.9 368.9 L338.5 366.4 L341.0 366.4 L344.4 363.8 L347.7 363.0 L351.1 363.5 L356.1 365.9 L361.2 366.4 L366.2 362.2 L370.4 358.0 L373.3 354.6 L375.4 346.2 L378.8 334.4 L382.0 325.8 L384.3 316.6 L386.5 311.6 L388.5 291.4 L391.0 272.9 L393.5 257.8 L395.7 250.2 L397.6 239.7 L401.8 227.9 L406.0 219.5 L410.2 214.5 L411.6 214.1 L416.1 221.2 L418.6 226.2 L421.1 238.0 L423.7 231.3 L426.2 227.9 L428.7 221.2 L432.1 211.1 L435.4 201.0 L437.9 194.3 L440.5 182.5 L442.1 180.5 L444.7 180.0 L447.2 175.8 L449.7 176.7 L452.2 171.6 L453.9 171.6 L457.3 165.7 L459.8 162.4 L461.5 164.9 L463.2 185.9 L465.7 202.7 L467.4 205.2 L469.9 206.1 L472.4 209.4 L474.4 213.6 L476.6 209.4 L480.0 202.7 L484.2 196.8 L488.5 195.5 L490.4 200.5 L492.8 209.1 L495.3 219.0 L497.8 230.1 L500.2 240.0 L502.7 243.1 L504.9 245.5 L507.7 242.5 L510.1 241.2 L512.6 241.5 L513.8 231.3 L515.7 221.5 L516.8 214.3 L520.2 202.6 L524.9 195.0 L526.9 182.4 L530.3 170.6 L533.7 166.4 L537.0 167.3 L539.0 182.4 L541.2 192.5 L543.3 203.9 L544.9 210.5 L547.8 211.3 L550.7 213.8 L555.2 220.0 L559.4 220.4 L562.7 220.8 L565.5 218.3 L567.6 218.7 L569.7 226.1 L572.5 234.4 L575.0 237.3 L577.5 231.1 L580.0 229.0 L582.4 229.4 L584.9 235.2 L587.8 239.7 L590.2 231.9 L593.1 224.5 L596.8 220.0 L600.1 219.5 L602.6 222.8 L605.1 223.3 L606.0 223.0 L609.3 217.2 L613.0 213.5 L615.1 215.2 L618.4 216.8 L622.5 218.9 L625.8 219.7 L628.7 215.2 L631.5 217.2 L634.0 222.2 L638.5 227.1 L640.6 217.2 L643.5 207.3 L646.4 203.6 L648.8 206.1 L651.7 207.8 L654.6 206.1 L657.1 199.5 L660.0 193.3 L662.0 190.9 L664.3 191.7 L665.8 174.3 L668.0 163.4 L671.4 153.3 L673.9 147.4 L677.3 146.6 L679.8 144.0 L684.0 142.4 L688.2 139.8 L690.7 141.5 L694.1 144.9 L698.3 149.1 L702.1 153.8 L705.0 151.6 L707.2 149.9 L708.7 124.8 L711.1 96.0 L713.5 87.6 L716.4 85.9 L719.3 84.7 L720.7 96.0 L722.4 117.6 L724.8 146.4 L727.0 165.4 L728.4 170.8 L730.8 169.6 L733.2 175.6 L735.6 192.4 L738.7 214.0 L741.6 235.1 L744.0 251.0 L745.9 256.3 L748.3 259.1 L751.2 270.2 L754.8 282.2 L758.4 294.2 L762.3 318.7 L765.4 335.5 L769.0 345.1 L772.6 359.3 L776.2 371.1 L779.8 380.5 L782.2 392.2 L785.8 401.8 L789.4 411.4 L793.0 418.4 L795.0 424.4 L796.0 425.1 L798.1 430.5 L801.0 429.2 L803.6 428.5 L806.1 428.7 L808.6 430.1 L811.1 429.2 L813.7 429.6 L816.2 429.9 L818.7 430.5 L820.9 433.8 L823.8 434.1 L826.3 433.8 L828.8 429.2 L831.3 429.0 L833.9 431.8 L836.4 434.1 L838.9 433.5 L841.5 433.2 L844.0 431.0" stroke="#ff7f00"/>
<path d="M82.7 432.2 L85.2 441.4 L87.8 441.5 L90.3 413.1 L92.8 402.0 L95.4 409.2 L97.9 440.8 L100.4 452.6 L102.9 477.5 L105.5 446.4 L108.0 438.1 L110.5 428.7 L113.1 443.6 L115.6 431.6 L118.1 432.8 L120.6 442.9 L123.2 442.0 L125.7 432.9 L128.2 429.3 L130.8 447.0 L133.3 461.0 L135.8 457.5 L138.3 440.8 L140.9 445.5 L143.4 428.8 L145.9 421.5 L148.4 403.7 L151.0 403.7 L153.5 394.3 L156.0 392.9 L158.6 391.8 L161.1 401.6 L163.6 396.9 L166.1 393.8 L168.7 396.4 L171.2 401.0 L173.7 402.9 L176.3 400.6 L178.8 409.6 L181.3 412.7 L183.8 427.9 L186.4 408.1 L188.9 407.0 L191.4 397.2 L194.0 380.3 L196.5 379.7 L199.0 382.2 L201.5 377.9 L204.1 380.1 L206.6 377.9 L209.1 382.5 L211.6 380.5 L214.2 385.9 L216.7 381.9 L219.2 362.1 L221.8 355.8 L224.3 339.4 L226.8 344.3 L229.3 356.6 L231.9 385.7 L234.4 393.3 L236.9 394.8 L239.5 390.9 L242.0 386.8 L244.5 387.0 L247.0 379.2 L249.6 377.3 L252.1 375.6 L254.6 369.9 L257.2 362.2 L259.7 360.5 L262.2 362.6 L264.7 355.4 L267.3 350.0 L269.8 345.0 L272.3 346.2 L274.8 345.5 L277.4 349.2 L279.9 348.3 L282.4 356.7 L285.0 340.0 L287.5 346.4 L290.0 348.6 L292.5 350.4 L295.1 344.6 L297.6 339.9 L300.1 335.3 L302.7 328.9 L305.2 325.8 L307.7 325.6 L310.2 323.5 L312.8 321.3 L315.3 316.6 L317.8 321.8 L320.4 346.7 L322.9 347.9 L325.4 364.5 L327.9 368.9 L330.5 361.8 L333.0 359.9 L335.5 345.3 L338.0 345.2 L340.6 347.9 L343.1 335.4 L345.6 341.0 L348.2 345.3 L350.7 350.2 L353.2 354.7 L355.7 354.6 L358.3 356.5 L360.8 355.2 L363.3 356.2 L365.9 337.4 L368.4 337.8 L370.9 335.9 L373.4 331.2 L376.0 329.0 L378.5 301.9 L381.0 288.7 L383.6 289.5 L386.1 286.0 L388.6 242.0 L391.1 232.9 L393.7 227.5 L396.2 212.8 L398.7 206.4 L401.2 212.7 L403.8 202.8 L406.3 205.7 L408.8 210.4 L411.4 207.9 L413.9 205.6 L416.4 198.9 L418.9 190.7 L421.5 223.1 L424.0 208.4 L426.5 203.2 L429.1 192.3 L431.6 182.6 L434.1 174.1 L436.6 153.9 L439.2 151.2 L441.7 145.1 L444.2 160.4 L446.8 157.5 L449.3 145.5 L451.8 134.3 L454.3 144.2 L456.9 138.1 L459.4 134.7 L461.9 181.2 L464.4 190.8 L467.0 176.3 L469.5 179.9 L472.0 191.7 L474.6 195.2 L477.1 170.8 L479.6 180.1 L482.1 167.9 L484.7 171.2 L487.2 159.4 L489.7 177.9 L492.3 212.4 L494.8 194.2 L497.3 225.6 L499.8 238.2 L502.4 252.1 L504.9 234.1 L507.4 241.0 L510.0 224.5 L512.5 210.4 L515.0 208.6 L517.5 189.6 L520.1 184.9 L522.6 172.7 L525.1 176.3 L527.6 159.7 L530.2 152.1 L532.7 155.8 L535.2 149.2 L537.8 139.0 L540.3 180.0 L542.8 184.0 L545.3 203.0 L547.9 192.7 L550.4 208.0 L552.9 207.6 L555.5 208.2 L558.0 217.5 L560.5 211.5 L563.0 209.6 L565.6 213.2 L568.1 218.6 L570.6 240.3 L573.2 230.3 L575.7 218.9 L578.2 219.5 L580.7 212.9 L583.3 235.1 L585.8 235.5 L588.3 241.1 L590.8 216.1 L593.4 212.9 L595.9 220.8 L598.4 228.3 L601.0 231.2 L603.5 220.8 L606.0 209.3 L608.5 195.8 L611.1 198.5 L613.6 210.9 L616.1 211.8 L618.7 200.5 L621.2 213.6 L623.7 210.0 L626.2 205.8 L628.8 201.7 L631.3 215.5 L633.8 222.2 L636.4 229.5 L638.9 220.1 L641.4 206.5 L643.9 205.3 L646.5 210.8 L649.0 221.2 L651.5 215.8 L654.0 188.6 L656.6 181.7 L659.1 168.4 L661.6 176.5 L664.2 170.2 L666.7 178.7 L669.2 153.3 L671.7 141.0 L674.3 143.6 L676.8 149.7 L679.3 126.6 L681.9 128.6 L684.4 126.0 L686.9 122.8 L689.4 122.5 L692.0 121.7 L694.5 133.3 L697.0 128.1 L699.6 155.4 L702.1 152.5 L704.6 148.7 L707.1 149.7 L709.7 85.0 L712.2 88.0 L714.7 88.7 L717.2 76.4" stroke="#cab2d6"/>
<path d="M83.2 432.0 L85.7 441.7 L88.0 448.7 L90.8 444.5 L93.3 440.6 L95.3 436.8 L98.4 454.0 L100.8 468.5 L103.6 479.9 L105.9 479.4 L107.9 475.1 L109.2 467.3 L111.0 458.4 L113.5 452.9 L116.1 449.3 L118.7 447.8 L121.1 447.3 L123.7 448.4 L125.9 452.0 L128.7 450.4 L131.3 459.5 L133.7 465.9 L136.3 465.3 L138.8 464.0 L141.4 462.3 L144.0 460.9 L146.4 459.8 L149.0 447.3 L151.5 437.3 L154.0 429.5 L156.6 423.9 L158.4 421.9 L160.9 423.2 L163.4 418.5 L166.8 413.2 L171.8 412.3 L176.1 413.2 L179.4 420.7 L183.6 423.2 L186.0 426.6 L191.2 415.7 L196.2 405.6 L202.1 398.0 L207.1 397.2 L212.2 395.5 L214.7 393.8 L217.2 393.0 L221.4 388.8 L224.8 374.8 L229.8 383.7 L232.4 390.5 L235.7 405.6 L239.1 409.8 L244.1 402.2 L249.2 396.3 L252.5 393.8 L255.9 393.0 L260.1 390.5 L264.3 382.1 L270.0 371.1 L273.8 367.2 L278.0 365.5 L279.6 366.4 L282.2 372.3 L284.7 370.6 L288.1 366.4 L290.6 365.2 L294.8 365.9 L297.6 366.4 L299.8 357.1 L304.0 350.4 L308.2 345.4 L312.4 341.2 L314.9 342.9 L317.5 347.1 L320.8 359.7 L325.0 373.9 L327.5 380.7 L330.4 384.9 L332.6 381.5 L335.9 370.6 L338.5 368.1 L341.0 368.1 L344.4 365.5 L347.7 364.7 L351.1 365.2 L356.1 367.6 L361.2 368.1 L366.2 363.9 L370.4 359.7 L373.3 356.3 L375.4 347.9 L378.8 336.1 L382.0 325.2 L384.3 316.0 L386.5 311.0 L388.5 290.8 L391.0 272.3 L393.5 257.2 L395.7 249.6 L397.6 239.1 L401.8 227.3 L406.0 218.9 L410.2 213.9 L411.6 213.5 L416.1 220.6 L418.6 225.6 L421.1 237.4 L423.7 230.7 L426.2 227.3 L428.7 220.6 L432.1 210.5 L435.4 200.4 L437.9 193.7 L440.5 181.9 L442.1 179.9 L444.7 179.4 L447.2 175.2 L449.7 176.1 L452.2 171.0 L453.9 171.0 L457.3 165.1 L459.8 161.8 L461.5 164.3 L463.2 185.3 L465.7 202.1 L467.4 204.6 L469.9 205.5 L472.4 208.8 L474.4 213.0 L476.6 208.8 L480.0 202.1 L484.2 196.2 L488.5 194.9 L490.4 199.9 L492.8 208.5 L495.3 218.4 L497.8 229.5 L500.2 239.4 L502.7 242.5 L504.9 244.9 L507.7 241.9 L510.1 240.6 L512.6 240.9 L513.8 230.7 L515.7 220.9 L516.8 213.7 L520.2 202.0 L524.9 194.4 L526.9 181.8 L530.3 170.0 L533.7 165.8 L537.0 166.7 L539.0 181.8 L541.2 191.9 L543.3 203.2 L544.9 209.8 L547.8 210.7 L550.7 213.1 L555.2 219.3 L559.4 219.7 L562.7 220.1 L565.5 217.7 L567.6 218.1 L569.7 225.5 L572.5 233.7 L575.0 236.6 L577.5 230.4 L580.0 228.4 L582.4 228.8 L584.9 234.5 L587.8 239.1 L590.2 231.2 L593.1 223.8 L596.8 219.3 L600.1 218.9 L602.6 222.2 L605.1 222.6 L606.0 222.0 L609.3 216.2 L613.0 212.5 L615.1 214.2 L618.4 215.8 L622.5 217.9 L625.8 218.7 L628.7 214.2 L631.5 216.2 L634.0 221.2 L638.5 226.1 L640.6 216.2 L643.5 206.4 L646.4 202.7 L648.8 205.1 L651.7 206.8 L654.6 205.1 L657.1 198.5 L660.0 192.4 L662.0 189.9 L664.3 190.7 L665.8 173.7 L668.0 162.8 L671.4 152.7 L673.9 146.8 L677.3 146.0 L679.8 143.4 L684.0 141.8 L688.2 139.2 L690.7 140.9 L694.1 144.3 L698.3 148.5 L702.1 153.2 L705.0 151.0 L707.2 149.3 L708.7 123.9 L711.1 95.0 L713.5 86.6 L716.4 85.0 L719.3 83.8 L720.7 95.0 L722.4 116.7 L724.8 145.5 L727.0 164.7 L728.4 169.8 L730.8 168.6 L733.2 174.6 L735.6 191.4 L738.7 213.0 L741.6 234.6 L744.0 251.5 L745.9 257.5 L748.3 259.9 L751.2 270.7 L754.8 282.7 L758.4 294.7 L762.3 319.2 L765.4 336.0 L769.0 345.6 L772.6 360.0 L776.2 372.0 L779.8 381.7 L782.2 393.7 L785.8 403.3 L789.4 412.9 L793.0 420.1 L795.0 426.1 L796.0 427.4 L798.1 432.9 L801.0 431.4 L803.6 430.8 L806.1 431.0 L808.6 432.3 L811.1 431.4 L813.7 431.8 L816.2 432.0 L818.7 432.7 L820.9 436.1 L823.8 436.1 L826.3 435.9 L828.8 431.4 L831.3 431.1 L833.9 434.1 L836.4 436.5 L838.9 435.6 L841.5 435.6 L844.0 433.2" stroke="#6a3d9a"/>
</g>
<g font-size="11" text-anchor="middle">
<text x="83.2" y="530.3" textLength="62.1" lengthAdjust="spacingAndGlyphs">2016-11-02</text>
<text x="159.1" y="530.3" textLength="62.1" lengthAdjust="spacingAndGlyphs">2016-12-15</text>
<text x="234.9" y="530.3" textLength="62.1" lengthAdjust="spacingAndGlyphs">2017-01-31</text>
<text x="310.8" y="530.3" textLength="62.1" lengthAdjust="spacingAndGlyphs">2017-03-15</text>
<text x="386.6" y="530.3" textLength="62.1" lengthAdjust="spacingAndGlyphs">2017-04-27</text>
<text x="462.4" y="530.3" textLength="62.1" lengthAdjust="spacingAndGlyphs">2017-06-09</text>
<text x="538.3" y="530.3" textLength="62.1" lengthAdjust="spacingAndGlyphs">2017-07-24</text>
<text x="614.1" y="530.3" textLength="62.1" lengthAdjust="spacingAndGlyphs">2017-09-05</text>
<text x="689.9" y="530.3" textLength="62.1" lengthAdjust="spacingAndGlyphs">2017-10-17</text>
<text x="765.8" y="530.3" textLength="62.1" lengthAdjust="spacingAndGlyphs">2017-11-20</text>
<text x="841.6" y="530.3" textLength="62.1" lengthAdjust="spacingAndGlyphs">2017-12-20</text>
</g>
<g font-size="11" text-anchor="end">
<text x="34.5" y="462.9" textLength="20.3" lengthAdjust="spacingAndGlyphs">750</text>
<text x="34.5" y="393.6" textLength="20.3" lengthAdjust="spacingAndGlyphs">800</text>
<text x="34.5" y="324.4" textLength="20.3" lengthAdjust="spacingAndGlyphs">850</text>
<text x="34.5" y="255.1" textLength="20.3" lengthAdjust="spacingAndGlyphs">900</text>
<text x="34.5" y="185.8" textLength="20.3" lengthAdjust="spacingAndGlyphs">950</text>
<text x="34.5" y="116.5" textLength="27.1" lengthAdjust="spacingAndGlyphs">1000</text>
<text x="34.5" y="47.2" textLength="27.1" lengthAdjust="spacingAndGlyphs">1050</text>
</g>
<text x="463.2" y="17" font-size="12" text-anchor="middle" textLength="129" lengthAdjust="spacingAndGlyphs">overlap stock market</text>
<rect x="154.5" y="544.4" width="622.2" height="33.5" rx="2.5" fill="#464649" opacity="0.55"/>
<rect x="152.5" y="542.4" width="622.2" height="33.5" rx="2.5" fill="#eaeaf2" stroke="#cccccc" stroke-width="1"/>
<g font-size="11.07">
<path d="M156.9 550 H178.9" stroke="#a6cee3" stroke-width="1.5" fill="none" stroke-linecap="square"/>
<text x="187.1" y="554.5">true Open</text>
<path d="M156.9 566 H178.9" stroke="#1f78b4" stroke-width="1.5" fill="none" stroke-linecap="square"/>
<text x="187.1" y="569.7">predict Open</text>
<path d="M281.2 550 H303.2" stroke="#b2df8a" stroke-width="1.5" fill="none" stroke-linecap="square"/>
<text x="312.1" y="554.5">true High</text>
<path d="M281.2 566 H303.2" stroke="#33a02c" stroke-width="1.5" fill="none" stroke-linecap="square"/>
<text x="312.1" y="569.7">predict High</text>
<path d="M402.1 550 H424.1" stroke="#fb9a99" stroke-width="1.5" fill="none" stroke-linecap="square"/>
<text x="433.1" y="554.5">true Low</text>
<path d="M402.1 566 H424.1" stroke="#e31a1c" stroke-width="1.5" fill="none" stroke-linecap="square"/>
<text x="433.1" y="569.7">predict Low</text>
<path d="M519.8 550 H541.8" stroke="#fdbf6f" stroke-width="1.5" fill="none" stroke-linecap="square"/>
<text x="550.2" y="554.5">true Close</text>
<path d="M519.8 566 H541.8" stroke="#ff7f00" stroke-width="1.5" fill="none" stroke-linecap="square"/>
<text x="550.2" y="569.7">predict Close</text>
<path d="M645.3 550 H667.3" stroke="#cab2d6" stroke-width="1.5" fill="none" stroke-linecap="square"/>
<text x="676.3" y="554.5">true Adj Close</text>
<path d="M645.3 566 H667.3" stroke="#6a3d9a" stroke-width="1.5" fill="none" stroke-linecap="square"/>
<text x="676.3" y="569.7">predict Adj Close</text>
</g>
</svg></body></html>
